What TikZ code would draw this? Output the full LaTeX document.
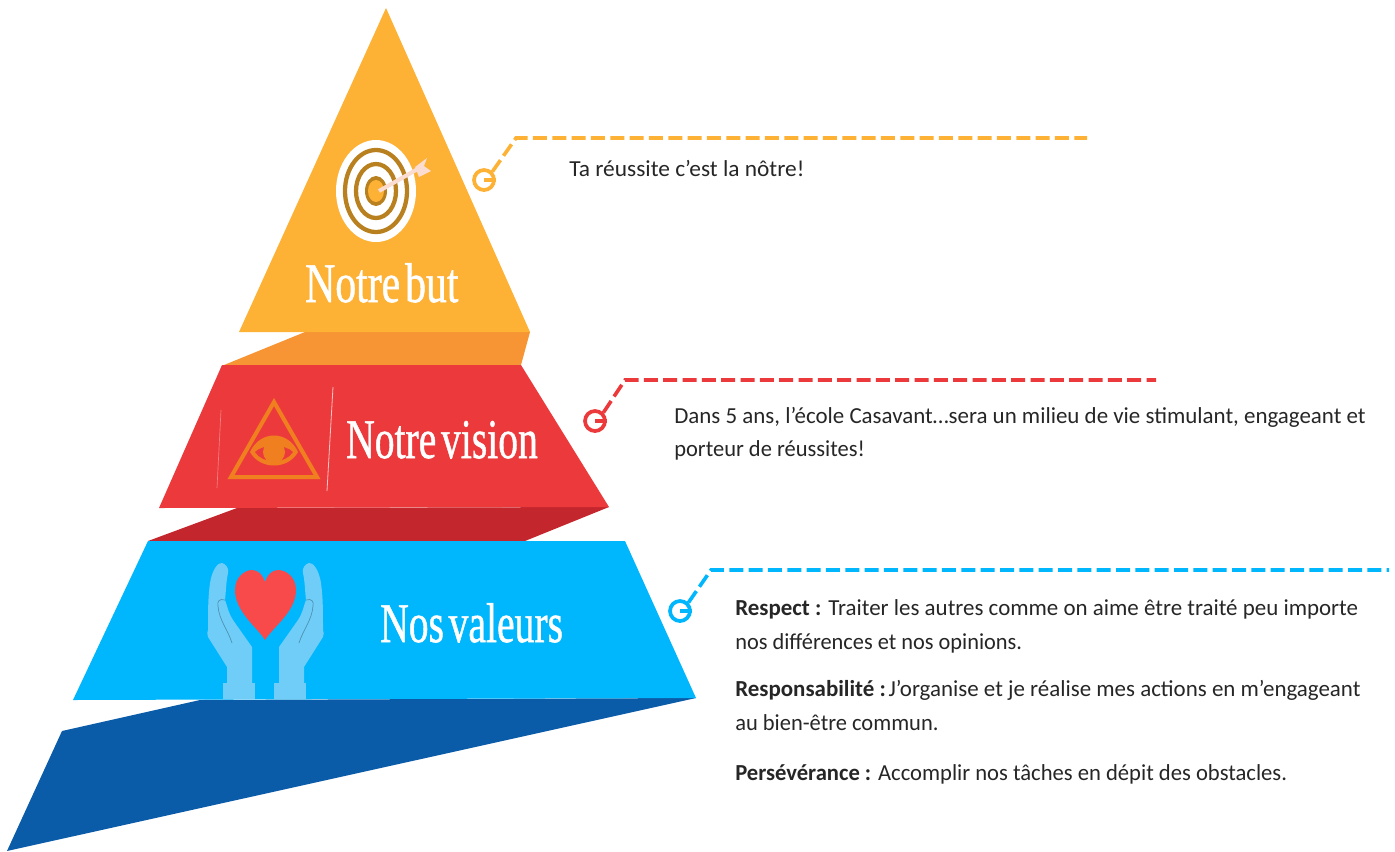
\documentclass[tikz,border=0pt]{standalone}
\usepackage{fontspec}
\setmainfont{Carlito}
\newfontfamily\titlefont[RawFeature={embolden=1}]{Liberation Serif}
\definecolor{orA}{HTML}{FDB135}
\definecolor{orB}{HTML}{F79433}
\definecolor{orD}{HTML}{B9801F}
\definecolor{reA}{HTML}{EC3A3C}
\definecolor{reB}{HTML}{C4262D}
\definecolor{reI}{HTML}{F0801F}
\definecolor{blA}{HTML}{00B6FD}
\definecolor{blB}{HTML}{0B5CA8}
\definecolor{handc}{HTML}{6FCDF8}
\definecolor{heartc}{HTML}{F8494B}
\definecolor{txt}{HTML}{262626}
\definecolor{arrowc}{HTML}{FBDCD0}
\tikzset{
  ring/.style={circle,draw=#1,line width=2.8pt,minimum size=15pt,inner sep=0pt},
  leader/.style={draw=#1,line width=2.7pt,dash pattern=on 10.5pt off 4pt},
  tick/.style={draw=#1,line width=2.4pt},
  titlelabel/.style={text=white,font=\titlefont\fontsize{42}{42}\selectfont,inner sep=0pt,anchor=base west},
  body/.style={text=txt,font=\fontsize{17.2}{20}\selectfont,inner sep=0pt,anchor=base west},
}
\begin{document}
\begin{tikzpicture}[x=0.75pt,y=-0.75pt]
\useasboundingbox (0,0) rectangle (1395,851);
% folds
\fill[orB] (224,365) -- (305,332) -- (530,332) -- (521,365) -- cycle;
\fill[reB] (148,541) -- (237,508) -- (609,507) -- (525,541) -- cycle;
\fill[blB] (7,851) -- (62,731) -- (200,700) -- (696,698) -- cycle;
% bands
\fill[orA] (386,8) -- (530,332) -- (239,332) -- cycle;
\fill[reA] (222,365) -- (521,365) -- (609,507) -- (159,508) -- cycle;
\fill[blA] (148,541) -- (625,541) -- (696,698) -- (73,700) -- cycle;
% target icon
\fill[white] (376,191) ellipse (40 and 51);
\draw[orD,line width=3.2pt] (376,191) ellipse (31 and 41);
\draw[orD,line width=3.2pt] (376,191) ellipse (20 and 27);
\fill[orD] (376,191) ellipse (11 and 15);
\fill[orA] (376,191) ellipse (8 and 11);
\draw[arrowc,line width=3pt] (379,191) -- (423,166);
\fill[arrowc] (415,167) -- (427,158) -- (424,166) -- (431,171) -- (419,177) -- cycle;
% eye icon
\draw[reI,line width=3pt,line join=miter] (274,402) -- (317,477) -- (231,477) -- cycle;
\fill[reI] (250,452) .. controls (260,430) and (288,430) .. (298,452) .. controls (288,470) and (260,470) .. (250,452) -- cycle;
\fill[reA] (255,452) .. controls (262,444) and (286,444) .. (293,452) .. controls (286,464) and (262,464) .. (255,452) -- cycle;
\fill[reI] (274,452) circle (11);
\draw[white!70!reA,line width=0.6pt] (333,387) -- (327,491);
\draw[white!35!reA,line width=0.5pt] (221,410) -- (217,488);
% hands icon
\fill[handc] (223,683) rectangle (255,699);
\fill[handc] (274,683) rectangle (306,699);
\fill[handc] (227,683) -- (227,667) -- (208,637) .. controls (207,634) and (207,632) .. (208,630)
  .. controls (208,610) and (208,598) .. (210,583) .. controls (212,570) and (218,562) .. (222,563)
  .. controls (226,564) and (229,568) .. (228,573) .. controls (226,582) and (226,592) .. (225,600)
  .. controls (228,608) and (228,612) .. (233,620) -- (252,647) -- (252,683) -- cycle;
\fill[handc] (304,683) -- (304,667) -- (323,637) .. controls (324,634) and (324,632) .. (323,630)
  .. controls (323,610) and (323,598) .. (321,583) .. controls (319,570) and (313,562) .. (309,563)
  .. controls (305,564) and (302,568) .. (303,573) .. controls (305,582) and (305,592) .. (306,600)
  .. controls (303,608) and (303,612) .. (298,620) -- (279,647) -- (279,683) -- cycle;
\draw[handc!70!black,line width=0.5pt] (225,600) .. controls (219,598) and (217,602) .. (218,606) .. controls (219,620) and (228,630) .. (232,643);
\draw[handc!70!black,line width=0.5pt] (306,600) .. controls (312,598) and (314,602) .. (313,606) .. controls (312,620) and (303,630) .. (299,643);
\fill[heartc] (265,640) .. controls (258,628) and (235,612) .. (235,590) .. controls (235,576) and (246,570) .. (252,570) .. controls (258,570) and (263,575) .. (265,582) .. controls (267,575) and (272,570) .. (278,570) .. controls (287,570) and (296,578) .. (296,590) .. controls (296,612) and (272,628) .. (265,640) -- cycle;
% titles
\node[titlelabel,xscale=0.745] (tbut) at (305,302) {Notre\hspace{0.12em}but};
\node[titlelabel,xscale=0.707] (tvis) at (346,458) {Notre\hspace{0.12em}vision};
\node[titlelabel,xscale=0.707] (tval) at (380,642) {Nos\hspace{0.12em}valeurs};
% leaders
\node[ring=orA] (r1) at (484,180) {};
\coordinate (k1) at (516,138); \coordinate (e1) at (1087,138);
\draw[tick=orA] (r1.center) -- (r1.east);
\draw[leader=orA] (r1.north east) -- (k1) -- (e1);
\node[ring=reA] (r2) at (595,421) {};
\coordinate (k2) at (625,380); \coordinate (e2) at (1156,380);
\draw[tick=reA] (r2.center) -- (r2.east);
\draw[leader=reA] (r2.north east) -- (k2) -- (e2);
\node[ring=blA] (r3) at (680,611) {};
\coordinate (k3) at (711,570); \coordinate (e3) at (1389,570);
\draw[tick=blA] (r3.center) -- (r3.east);
\draw[leader=blA] (r3.north east) -- (k3) -- (e3);
% body text
\node[body,xscale=1.02] (b1) at (569,176) {Ta réussite c’est la nôtre!};
\node[body] (b2) at (674,423) {Dans 5 ans, l’école Casavant…sera un milieu de vie stimulant, engageant et};
\node[body,xscale=0.98] (b3) at (674,456) {porteur de réussites!};
\node[body] (b4) at (735,615) {\textbf{Respect :} Traiter les autres comme on aime être traité peu importe};
\node[body,xscale=0.975] (b5) at (735,649) {nos différences et nos opinions.};
\node[body] (b6) at (735,696) {\textbf{Responsabilité :}\hspace{2pt}J’organise et je réalise mes actions en m’engageant};
\node[body,xscale=0.98] (b7) at (735,730) {au bien-être commun.};
\node[body,xscale=0.986] (b8) at (735,780) {\textbf{Persévérance :} Accomplir nos tâches en dépit des obstacles.};
\end{tikzpicture}
\end{document}
